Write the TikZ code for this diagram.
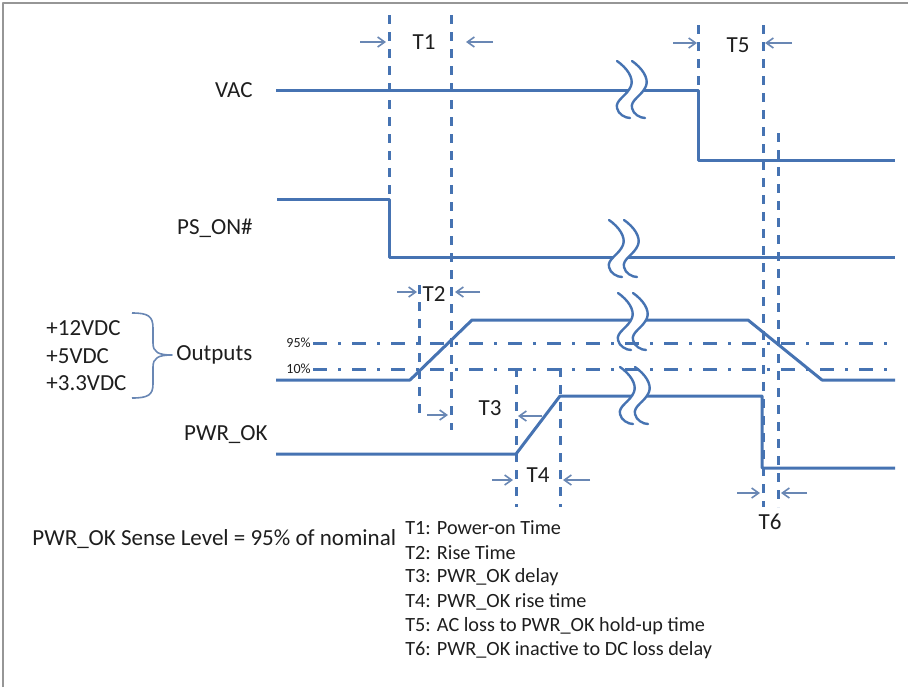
\documentclass[tikz,border=0pt]{standalone}
\usepackage{fontspec}
\setmainfont{Carlito}
\usetikzlibrary{arrows.meta}
\definecolor{sigblue}{RGB}{70,115,178}
\definecolor{arrblue}{RGB}{105,135,180}
\definecolor{framegray}{RGB}{150,150,150}
\definecolor{txtgray}{RGB}{30,30,30}
\begin{document}
\begin{tikzpicture}[x=0.5pt, y=-0.5pt, line join=round, >={Straight Barb[length=3.5pt,width=5pt]},
	sig/.style={sigblue, line width=1.5pt},
	markline/.style={sigblue, line width=1.5pt, dash pattern=on 4.5pt off 4pt},
	level/.style={sigblue, line width=1.5pt, dash pattern=on 7pt off 5.5pt on 1.5pt off 5.5pt},
	tarrow/.style={arrblue, line width=0.8pt, ->},
	lbl/.style={font=\fontsize{11.5}{13}\selectfont, text=txtgray, inner sep=0pt},
	lgd/.style={font=\fontsize{10.1}{12}\selectfont, text=txtgray, inner sep=0pt, anchor=west},
	pct/.style={font=\fontsize{7}{8}\selectfont, text=txtgray, inner sep=0pt, anchor=east},
	brk/.pic={
		\fill[white] (0,-29) .. controls (10,-22) and (17,-12) .. (14,-4) .. controls (10,6) and (-2,10) .. (0,18) .. controls (1,24) and (8,28) .. (13,28) -- (28,28) .. controls (23,28) and (16,24) .. (15,18) .. controls (13,10) and (25,6) .. (29,-4) .. controls (32,-12) and (25,-22) .. (15,-29) -- cycle;
		\foreach \dx in {0,15}
			\draw[sigblue, line width=1.2pt, line cap=round, shift={(\dx,0)}] (0,-29) .. controls (10,-22) and (17,-12) .. (14,-4) .. controls (10,6) and (-2,10) .. (0,18) .. controls (1,24) and (8,28) .. (13,28);
	}]
	\def\tA{389} \def\tB{451} \def\tC{419} \def\tD{516} \def\tE{560} \def\tF{698} \def\tG{763} \def\tH{778}
	\useasboundingbox (0,0) rectangle (908,687);
	\draw[framegray, line width=1pt] (3,687) -- (3,3) -- (908,3);
	% waveforms
	\draw[sig] (276,90) -- (\tF,90) -- (\tF,160) -- (895,160);
	\draw[sig] (277,199) -- (\tA,199) -- (\tA,257) -- (895,257);
	\draw[sig] (276,380) -- (410,380) -- (472,320) -- (748,320) -- (822,380) -- (895,380);
	\draw[sig] (276,454) -- (\tD,454) -- (\tE,396) -- (762,396) -- (762,468) -- (895,468);
	\pic at (617,90) {brk};
	\pic at (609,249) {brk};
	\pic at (618,322) {brk};
	\pic at (620,396) {brk};
	% thresholds
	\draw[level] (313,343) -- (893,343);
	\draw[level] (313,369) -- (893,369);
	\node[pct] (p95) at (311,343) {95\%};
	\node[pct] (p10) at (311,369) {10\%};
	% timing marks
	\draw[markline] (\tA,15) -- (\tA,199);
	\draw[markline] (\tB,15) -- (\tB,430);
	\draw[markline] (\tC,285) -- (\tC,415);
	\draw[markline] (\tD,368) -- (\tD,507);
	\draw[markline] (\tE,368) -- (\tE,507);
	\draw[markline] (\tF,25) -- (\tF,88);
	\draw[markline] (\tG,25) -- (\tG,507);
	\draw[markline] (\tH,133) -- (\tH,507);
	\draw[tarrow] (360,42) -- (386,42);
	\draw[tarrow] (493,42) -- (466,42);
	\draw[tarrow] (673,43) -- (697,43);
	\draw[tarrow] (792,43) -- (765,43);
	\draw[tarrow] (397,292) -- (417,292);
	\draw[tarrow] (480,292) -- (455,292);
	\draw[tarrow] (427,415) -- (448,415);
	\draw[tarrow] (542,416) -- (518,416);
	\draw[tarrow] (492,480) -- (513,480);
	\draw[tarrow] (590,480) -- (563,480);
	\draw[tarrow] (737,493) -- (760,493);
	\draw[tarrow] (807,493) -- (781,493);
	\node[lbl] (t1) at (424,42) {T1};
	\node[lbl] (t2) at (434,294) {T2};
	\node[lbl] (t3) at (490,408) {T3};
	\node[lbl] (t4) at (538,475) {T4};
	\node[lbl] (t5) at (738,45) {T5};
	\node[lbl] (t6) at (770,522) {T6};
	% signal names
	\node[lbl, anchor=east] (vac) at (253,90) {VAC};
	\node[lbl, anchor=east] (pson) at (253,228) {PS\_ON\#};
	\node[lbl, anchor=east] (pwrok) at (268,435) {PWR\_OK};
	\node[lbl, anchor=west] (outs) at (176,355) {Outputs};
	\node[lbl, anchor=west] (v12) at (46,328) {+12VDC};
	\node[lbl, anchor=west] (v5) at (46,356) {+5VDC};
	\node[lbl, anchor=west] (v33) at (46,383) {+3.3VDC};
	\draw[arrblue, line width=0.8pt] (132,313) .. controls (148,313) and (153,316) .. (153,328) -- (153,343) .. controls (153,352) and (158,355) .. (172,355) .. controls (158,355) and (153,358) .. (153,367) -- (153,384) .. controls (153,395) and (148,398) .. (132,398);
	\node[lbl, anchor=west] (sense) at (32,539) {PWR\_OK Sense Level = 95\% of nominal};
	\foreach \txt [count=\i] in {T1: Power-on Time, T2: Rise Time, T3: PWR\_OK delay, T4: PWR\_OK rise time, T5: AC loss to PWR\_OK hold-up time, T6: PWR\_OK inactive to DC loss delay}
		\node[lgd] (lgd\i) at (405,503.5+24.5*\i) {\txt};
\end{tikzpicture}
\end{document}
